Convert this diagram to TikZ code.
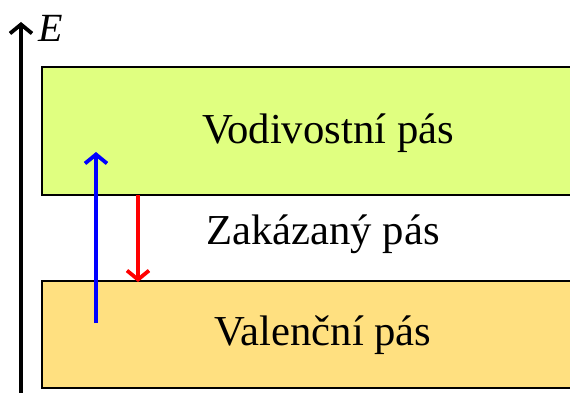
\documentclass[tikz,border=0pt]{standalone}
\usepackage{fontspec}
\setmainfont{Liberation Serif}
\usetikzlibrary{arrows.meta}
\definecolor{condc}{RGB}{224,255,128}
\definecolor{valc}{RGB}{255,224,128}
\tikzset{
  band/.style={draw=black, line width=2pt},
  lbl/.style={font=\fontsize{42.7}{46}\selectfont, inner sep=0pt},
  arr/.style={line width=3.8pt, -{Straight Barb[length=9pt,width=22pt,line width=3.8pt]}}
}
\begin{document}
\begin{tikzpicture}[x=1pt,y=1pt]
\useasboundingbox (0,0) rectangle (570,392);
\fill[condc] (42,197) rectangle (575,325);
\draw[band] (575,325) -- (42,325) -- (42,197) -- (575,197);
\fill[valc] (42,4) rectangle (575,111);
\draw[band] (575,111) -- (42,111) -- (42,4) -- (575,4);
\node[lbl] (cb) at (328,259) {Vodivostní pás};
\node[lbl] (gap) at (323,158) {Zakázaný pás};
\node[lbl] (vb) at (323,57) {Valenční pás};
\coordinate (ax0) at (21,-2);
\coordinate (ax1) at (21,370);
\draw[arr] (ax0) -- (ax1);
\node[font=\itshape\fontsize{40}{44}\selectfont, inner sep=0pt, anchor=base west] (E) at (38,350) {E};
\coordinate (b0) at (96,69);
\coordinate (b1) at (96,240);
\draw[arr, blue] (b0) -- (b1);
\coordinate (r0) at (138,197);
\coordinate (r1) at (138,110);
\draw[arr, red] (r0) -- (r1);
\end{tikzpicture}
\end{document}
